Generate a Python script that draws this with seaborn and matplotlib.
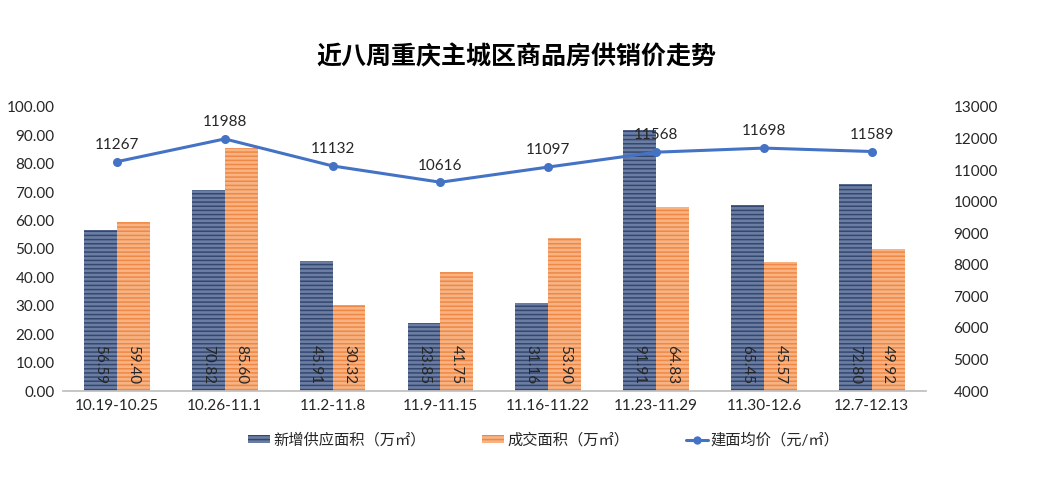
import numpy as np
import pandas as pd
import matplotlib
matplotlib.use("Agg")
import matplotlib.pyplot as plt
import seaborn as sns
from matplotlib.patches import Patch
from matplotlib.lines import Line2D

categories = ["10.19-10.25", "10.26-11.1", "11.2-11.8", "11.9-11.15", "11.16-11.22",
              "11.23-11.29", "11.30-12.6", "12.7-12.13"]
supply = [56.59, 70.82, 45.91, 23.85, 31.16, 91.91, 65.45, 72.80]
deal = [59.40, 85.60, 30.32, 41.75, 53.90, 64.83, 45.57, 49.92]
price = [11267, 11988, 11132, 10616, 11097, 11568, 11698, 11589]
series_names = ["新增供应面积（万㎡）", "成交面积（万㎡）", "建面均价（元/㎡）"]
title = "近八周重庆主城区商品房供销价走势"

sns.set_theme(style="white")
plt.rcParams['font.family'] = ['Lato', 'Noto Sans CJK SC', 'DejaVu Sans']
plt.rcParams['hatch.linewidth'] = 1.1

blue_face = "#6b7da3"
blue_hatch = "#34476f"
orange_face = "#f7b383"
orange_hatch = "#ef8845"
line_color = "#4472c4"
text_color = "#262626"
fs = 11

df = pd.DataFrame({
    "cat": categories * 2,
    "val": supply + deal,
    "series": [series_names[0]] * len(categories) + [series_names[1]] * len(categories),
})

fig = plt.figure(figsize=(10.64, 4.8), dpi=100)
ax = fig.add_axes([0.0592, 0.1854, 0.8108, 0.5917])
sns.barplot(data=df, x="cat", y="val", hue="series", ax=ax,
            palette=[blue_face, orange_face], width=0.61, gap=0, legend=False,
            saturation=1)

n = len(categories)
for i, p in enumerate(ax.patches[:2 * n]):
    p.set_hatch("----")
    p.set_edgecolor(blue_hatch if i < n else orange_hatch)
    p.set_linewidth(0)
    cx = p.get_x() + p.get_width() / 2
    val = p.get_height()
    ax.text(cx, 9.2, f"{val:.2f}", rotation=270, ha="center", va="center",
            fontsize=fs, color=text_color)

ax.set_ylim(0, 100)
ax.set_yticks(np.arange(0, 101, 10))
ax.set_yticklabels([f"{v:.2f}" for v in np.arange(0, 101, 10)], fontsize=fs, color=text_color)
ax.set_xlim(-0.5, n - 0.5)
ax.set_xticks(range(n))
ax.set_xticklabels(categories, fontsize=fs, color=text_color)
ax.set_xlabel("")
ax.set_ylabel("")
for s in ["top", "right", "left"]:
    ax.spines[s].set_visible(False)
ax.spines["bottom"].set_color("#bfbfbf")
ax.tick_params(axis="both", length=0, pad=6)

ax2 = ax.twinx()
sns.lineplot(x=np.arange(n), y=price, ax=ax2, color=line_color, linewidth=2.2,
             marker="o", markersize=6.5, markeredgewidth=0)
ax2.set_ylim(4000, 13000)
ax2.set_yticks(np.arange(4000, 13001, 1000))
ax2.set_yticklabels([str(v) for v in range(4000, 13001, 1000)], fontsize=fs, color=text_color)
ax2.tick_params(axis="y", length=0, pad=20)
ax2.set_xlim(-0.5, n - 0.5)
for s in ["top", "right", "left", "bottom"]:
    ax2.spines[s].set_visible(False)
for i, v in enumerate(price):
    ax2.annotate(str(v), (i, v), xytext=(0, 7), textcoords="offset points",
                 ha="center", va="bottom", fontsize=fs, color=text_color)

fig.text(0.485, 0.881, title, ha="center", va="center", fontsize=18,
         fontweight="bold", color="#000000", family=['Noto Sans CJK SC', 'DejaVu Sans'])

handles = [
    Patch(facecolor=blue_face, edgecolor=blue_hatch, hatch="----", linewidth=0),
    Patch(facecolor=orange_face, edgecolor=orange_hatch, hatch="----", linewidth=0),
    Line2D([0], [0], color=line_color, linewidth=2.2, marker="o", markersize=6, markeredgewidth=0),
]
fig.legend(handles, series_names, loc="center", bbox_to_anchor=(0.511, 0.083), ncol=3,
           frameon=False, fontsize=fs, handlelength=1.45, handleheight=0.45,
           columnspacing=3.7, handletextpad=0.2)

fig.savefig("out.png", dpi=100)
